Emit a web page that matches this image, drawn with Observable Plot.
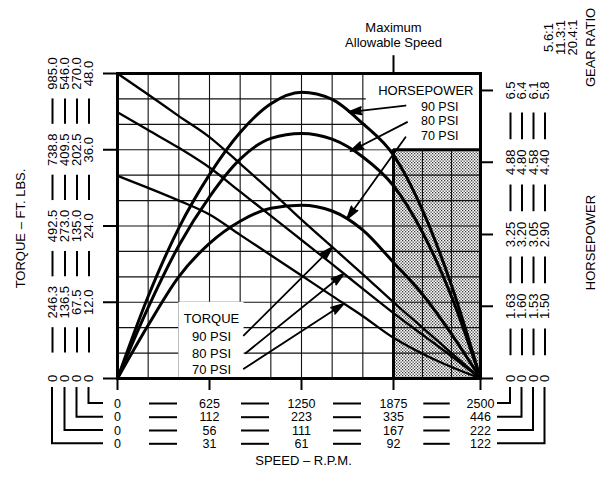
<!DOCTYPE html>
<html><head><meta charset="utf-8">
<script src="https://cdn.jsdelivr.net/npm/d3@7"></script>
<script src="https://cdn.jsdelivr.net/npm/@observablehq/plot@0.6"></script>
<style>
body{margin:0;background:#fff;}
#chart svg{display:block;}
</style></head><body><div id="chart"></div>
<script>
// ---------------- data ----------------
const rpm      = [0, 208, 417, 625, 833, 1042, 1250, 1458, 1667, 1875, 2083, 2292, 2500];
const torque90 = [48, 44.7, 41.3, 38.0, 33.8, 29.5, 25.0, 20.7, 16.4, 12.0, 8.0, 4.0, 0];
const torque80 = [41.9, 39.1, 36.3, 33.2, 29.4, 25.6, 21.8, 18.0, 14.1, 10.3, 6.9, 3.5, 0];
const torque70 = [31.9, 30.0, 28.0, 25.8, 22.6, 19.4, 16.2, 13.0, 9.8, 6.4, 3.9, 1.8, 0];
const hp90     = [0, 1.85, 3.4, 4.6, 5.55, 6.2, 6.46, 6.3, 5.75, 5.04, 3.8, 2.1, 0];
const hp80     = [0, 1.6, 3.0, 4.1, 4.95, 5.42, 5.53, 5.4, 5.0, 4.35, 3.3, 1.85, 0];
const hp70     = [0, 1.2, 2.3, 3.05, 3.55, 3.84, 3.91, 3.78, 3.35, 2.62, 1.9, 1.0, 0];

const speedTicks = [0, 625, 1250, 1875, 2500];
const speedRows = [
  ["0", "625", "1250", "1875", "2500"],
  ["0", "112", "223", "335", "446"],
  ["0", "56", "111", "167", "222"],
  ["0", "31", "61", "92", "122"]
];
const torqueTicks = [0, 12, 24, 36, 48];
const torqueCols = [
  ["0", "246.3", "492.5", "738.8", "985.0"],
  ["0", "136.5", "273.0", "409.5", "546.0"],
  ["0", "67.5", "135.0", "202.5", "270.0"],
  ["0", "12.0", "24.0", "36.0", "48.0"]
];
const hpTicks = [0, 1.63, 3.25, 4.88, 6.5];
const hpCols = [
  ["0", "1.63", "3.25", "4.88", "6.5"],
  ["0", "1.60", "3.20", "4.80", "6.4"],
  ["0", "1.53", "3.05", "4.58", "6.1"],
  ["0", "1.50", "2.90", "4.40", "5.8"]
];
const gearRatios = ["5.6:1", "11.3:1", "20.4:1"];
const maxSpeed = 1875;          // maximum allowable speed (RPM)
const shadeTop = 36;            // top of shaded zone (torque units)
const hpTopOnTorque = 45.33;    // 6.5 HP lines up with this torque value
const hpPerTick = 6.5;
const K = hpTopOnTorque / hpPerTick;   // HP -> torque-axis units

// annotations (data coordinates)
const hpLegend = [
  {label: "HORSEPOWER", y: 45.3, off: -7, size: 13},
  {label: "90 PSI", y: 42.75, off: -22, size: 12.5},
  {label: "80 PSI", y: 40.45, off: -22, size: 12.5},
  {label: "70 PSI", y: 38.15, off: -22, size: 12.5}
];
const tqLegend = [
  {label: "TORQUE", y: 9.44},
  {label: "90 PSI", y: 6.61},
  {label: "80 PSI", y: 3.89},
  {label: "70 PSI", y: 1.42}
];
const tqLegendX = 639;
const hpArrows = [
  {x1: 1961, y1: 42.96, x2: 1571, y2: 41.91},
  {x1: 1973, y1: 40.34, x2: 1583, y2: 35.77},
  {x1: 1961, y1: 37.98, x2: 1560, y2: 25.13}
];
const tqArrows = [
  {x1: 858, y1: 6.77, x2: 1459, y2: 20.66},
  {x1: 870, y1: 3.98, x2: 1537, y2: 16.48},
  {x1: 858, y1: 1.53, x2: 1537, y2: 11.76}
];
const whiteBoxes = [
  {x1: 1690, x2: 2500, y1: 36, y2: 48},
  {x1: 417, x2: 860, y1: 0, y2: 12}
];

// ---------------- layout ----------------
const W = 608, H = 482;
const FL = 117, FR = 480, FT = 73, FB = 378, FX1875 = 393;
const leftColDx = [-65, -52.5, -40.5, -28.5];
const rightColDx = [30, 41.5, 53, 64.5];
const gearDx = [68, 80, 92];
const rowDy = [25, 38.7, 52, 65.3];
const font = "'Liberation Sans', Arial, Helvetica, sans-serif";

const gridX = d3.range(13).map(i => i * 2500 / 12);
const gridY = d3.range(13).map(i => i * 4);
const series = (vals, f = d => d) => rpm.map((r, i) => ({rpm: r, v: f(vals[i])}));
const mids = a => a.slice(1).map((d, i) => (d + a[i]) / 2);
const vtext = {rotate: -90, textAnchor: "middle", lineAnchor: "middle", fontSize: 13};

const marks = [];
// shaded zone
marks.push(Plot.rect([0], {x1: maxSpeed, x2: 2500, y1: 0, y2: shadeTop, fill: "url(#stipple)"}));
// grid
marks.push(Plot.ruleX(gridX, {y1: 0, y2: 48, stroke: "#111", strokeWidth: 1.1}));
marks.push(Plot.ruleY(gridY, {x1: 0, x2: 2500, stroke: "#111", strokeWidth: 1.1}));
// blank legend boxes
marks.push(Plot.rect(whiteBoxes, {x1: "x1", x2: "x2", y1: "y1", y2: "y2", fill: "#fff"}));
// shaded zone border
marks.push(Plot.ruleX([maxSpeed], {y1: 0, y2: shadeTop, strokeWidth: 3}));
marks.push(Plot.ruleY([shadeTop], {x1: maxSpeed, x2: 2500, strokeWidth: 3}));
marks.push(Plot.frame({strokeWidth: 3}));
// ticks
marks.push(Plot.axisY(torqueTicks, {anchor: "left", tickSize: 14, tickFormat: () => "", label: null, strokeWidth: 2}));
marks.push(Plot.axisY(hpTicks.map(d => d * K), {anchor: "right", tickSize: 12, tickFormat: () => "", label: null, strokeWidth: 2}));
marks.push(Plot.axisX(speedTicks, {anchor: "bottom", tickSize: 12, tickFormat: () => "", label: null, strokeWidth: 2}));
// curves
for (const t of [torque90, torque80, torque70])
  marks.push(Plot.line(series(t), {x: "rpm", y: "v", strokeWidth: 2.3, curve: "monotone-x"}));
for (const h of [hp90, hp80, hp70])
  marks.push(Plot.line(series(h, d => d * K), {x: "rpm", y: "v", strokeWidth: 3, curve: "monotone-x"}));
// arrows
for (const a of [hpArrows, tqArrows])
  marks.push(Plot.arrow(a, {x1: "x1", y1: "y1", x2: "x2", y2: "y2", stroke: "#000", strokeWidth: 1.8, headLength: 11, headAngle: 32, fill: "#000"}));
// legends
for (const d of hpLegend)
  marks.push(Plot.text([d], {x: 2500, y: "y", text: "label", textAnchor: "end", dx: d.off, fontSize: d.size}));
marks.push(Plot.text(tqLegend, {x: tqLegendX, y: "y", text: "label", fontSize: 13}));
// maximum allowable speed
marks.push(Plot.ruleX([maxSpeed], {y1: 48, y2: 50.8, strokeWidth: 2}));
marks.push(Plot.text(["Maximum\nAllowable Speed"], {x: maxSpeed, y: 48, text: d => d, lineAnchor: "bottom", dy: -27, fontSize: 13, lineHeight: 1.08}));
// left columns (torque)
torqueCols.forEach((col, c) => {
  marks.push(Plot.text(torqueTicks, {y: d => d, text: (d, i) => col[i], frameAnchor: "left", dx: leftColDx[c], ...vtext}));
  marks.push(Plot.ruleX(mids(torqueTicks), {x: 0, y1: d => d - 2, y2: d => d + 2, dx: leftColDx[c], strokeWidth: 2}));
});
// right columns (horsepower)
hpCols.forEach((col, c) => {
  marks.push(Plot.text(hpTicks, {y: d => d * K, text: (d, i) => col[i], frameAnchor: "right", dx: rightColDx[c], ...vtext}));
  marks.push(Plot.ruleX(mids(hpTicks), {x: 2500, y1: d => d * K - 2.1, y2: d => d * K + 2.1, dx: rightColDx[c], strokeWidth: 2}));
});
gearRatios.forEach((g, i) => {
  marks.push(Plot.text([g], {text: d => d, frameAnchor: "top-right", dx: gearDx[i], dy: -36, ...vtext}));
});
// bottom rows (speed)
speedRows.forEach((row, r) => {
  marks.push(Plot.text(speedTicks, {x: d => d, text: (d, i) => row[i], frameAnchor: "bottom", dy: rowDy[r], lineAnchor: "middle", fontSize: 12.5}));
  marks.push(Plot.ruleY(mids(speedTicks), {y: 0, x1: d => d - 95, x2: d => d + 95, dy: rowDy[r], strokeWidth: 2}));
});
// brackets joining columns to rows
marks.push((index, scales) => {
  const x0 = scales.x(0), x1 = scales.x(2500), y0 = scales.y(0);
  const g = d3.create("svg:g").attr("fill", "none").attr("stroke", "#000").attr("stroke-width", 2);
  leftColDx.forEach((dx, i) => {
    const ry = y0 + rowDy[3 - i];
    g.append("path").attr("d", `M${x0 + dx},${y0 + 9}V${ry}H${x0 - 14}`);
  });
  rightColDx.forEach((dx, i) => {
    const ry = y0 + rowDy[i];
    g.append("path").attr("d", `M${x1 + 17},${ry}H${x1 + dx}V${y0 + 9}`);
  });
  return g.node();
});
// axis titles
marks.push(Plot.text(["TORQUE – FT. LBS."], {text: d => d, frameAnchor: "left", dx: -97, dy: 2.5, ...vtext}));
marks.push(Plot.text(["SPEED – R.P.M."], {text: d => d, frameAnchor: "bottom", dx: 4.5, dy: 82, lineAnchor: "middle", fontSize: 13}));
marks.push(Plot.text(["HORSEPOWER"], {text: d => d, frameAnchor: "right", dx: 110, dy: 16.5, ...vtext}));
marks.push(Plot.text(["GEAR RATIO"], {text: d => d, frameAnchor: "top-right", dx: 110, dy: -26, ...vtext}));

const plot = Plot.plot({
  width: W, height: H,
  marginLeft: FL, marginRight: W - FR, marginTop: FT, marginBottom: H - FB,
  style: {fontFamily: font, fontSize: "13px", background: "#fff", color: "#000"},
  x: {type: "linear", domain: [0, maxSpeed, 2500], range: [FL, FX1875, FR], axis: null},
  y: {domain: [0, 48], axis: null},
  marks
});
d3.select(plot).insert("defs", ":first-child").html(
  `<pattern id="stipple" width="3" height="3" patternUnits="userSpaceOnUse">
     <rect width="3" height="3" fill="#fff"/>
     <rect x="0" y="0" width="1.3" height="1.3" fill="#3a3a3a"/>
     <rect x="1.5" y="1.5" width="1.3" height="1.3" fill="#3a3a3a"/>
   </pattern>`);
document.getElementById("chart").append(plot);
</script>
</body></html>
